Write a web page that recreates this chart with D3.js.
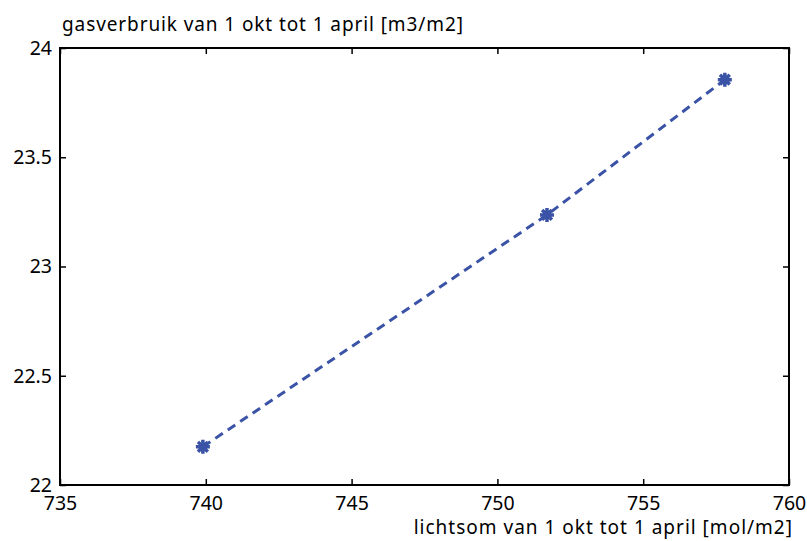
<!DOCTYPE html>
<html>
<head>
<meta charset="utf-8">
<script src="https://cdn.jsdelivr.net/npm/d3@7"></script>
<style>
  body { margin: 0; background: #fff; }
  text { font-family: "Noto Sans", sans-serif; fill: #000; }
</style>
</head>
<body>
<svg id="chart" width="807" height="541"></svg>
<script>
// data
var lichtsom = [739.9, 751.7, 757.8];
var gasverbruik = [22.175, 23.236, 23.855];
var xTicks = [735, 740, 745, 750, 755, 760];
var yTicks = [22, 22.5, 23, 23.5, 24];
var yLabel = "gasverbruik van 1 okt tot 1 april [m3/m2]";
var xLabel = "lichtsom van 1 okt tot 1 april [mol/m2]";

var plotLeft = 60, plotRight = 789, plotTop = 48, plotBottom = 485;
var lineColor = "#3a53a6";

var svg = d3.select("#chart");

var x = d3.scaleLinear().domain([735, 760]).range([plotLeft, plotRight]);
var y = d3.scaleLinear().domain([22, 24]).range([plotBottom, plotTop]);

var pts = lichtsom.map(function (d, i) { return { x: d, y: gasverbruik[i] }; });

// inward ticks on all four sides, no labels on top/right
function tickAxis(axis, transform, labels) {
  var g = svg.append("g").attr("transform", transform).call(axis);
  g.select(".domain").remove();
  g.selectAll(".tick line").attr("stroke", "#000").attr("stroke-width", 1.5);
  if (labels) {
    g.selectAll(".tick text").style("font-size", "19.5px").style("font-family", '"Noto Sans", sans-serif').attr("fill", "#000");
  } else {
    g.selectAll(".tick text").remove();
  }
  return g;
}

var gx = tickAxis(d3.axisBottom(x).tickValues(xTicks).tickSize(-6).tickFormat(d3.format("d")),
  "translate(0," + plotBottom + ")", true);
tickAxis(d3.axisTop(x).tickValues(xTicks).tickSize(-6), "translate(0," + plotTop + ")", false);
var gy = tickAxis(d3.axisLeft(y).tickValues(yTicks).tickSize(-6).tickFormat(function (d) { return d3.format("")(d); }),
  "translate(" + plotLeft + ",0)", true);
tickAxis(d3.axisRight(y).tickValues(yTicks).tickSize(-6), "translate(" + plotRight + ",0)", false);

gx.selectAll(".tick text").attr("dy", "0.71em").attr("y", 11);
gy.selectAll(".tick text").attr("x", -8);

// frame
svg.append("rect")
  .attr("x", plotLeft).attr("y", plotTop)
  .attr("width", plotRight - plotLeft).attr("height", plotBottom - plotTop)
  .attr("fill", "none").attr("stroke", "#000").attr("stroke-width", 2);

// dashed line
svg.append("path")
  .datum(pts)
  .attr("fill", "none")
  .attr("stroke", lineColor)
  .attr("stroke-width", 3)
  .attr("stroke-dasharray", "9,6")
  .attr("d", d3.line()
    .x(function (d) { return x(d.x); })
    .y(function (d) { return y(d.y); }));

// asterisk markers
var r = 7;
var star = "M" + (-r) + ",0L" + r + ",0M0," + (-r) + "L0," + r +
  "M" + (-r * 0.7) + "," + (-r * 0.7) + "L" + (r * 0.7) + "," + (r * 0.7) +
  "M" + (-r * 0.7) + "," + (r * 0.7) + "L" + (r * 0.7) + "," + (-r * 0.7);
svg.selectAll(".marker")
  .data(pts)
  .enter()
  .append("path")
  .attr("class", "marker")
  .attr("d", star)
  .attr("transform", function (d) { return "translate(" + x(d.x) + "," + y(d.y) + ")"; })
  .attr("fill", "none")
  .attr("stroke", lineColor)
  .attr("stroke-width", 3.5);

// axis titles
svg.append("text")
  .attr("x", 62).attr("y", 31)
  .style("font-size", "19px")
  .style("letter-spacing", "0.9px")
  .text(yLabel);

svg.append("text")
  .attr("x", 793).attr("y", 534)
  .attr("text-anchor", "end")
  .style("font-size", "19px")
  .style("letter-spacing", "1px")
  .text(xLabel);
</script>
</body>
</html>
